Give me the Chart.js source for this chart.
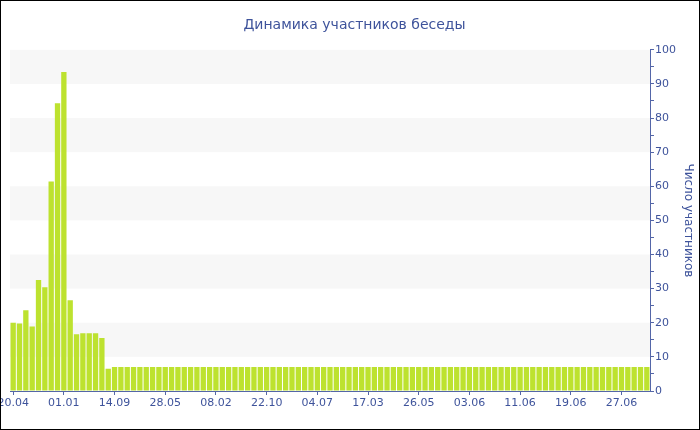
<!DOCTYPE html>
<html>
<head>
<meta charset="utf-8">
<script src="https://cdn.jsdelivr.net/npm/chart.js@4/dist/chart.umd.min.js"></script>
<style>
  html, body { margin: 0; padding: 0; background: #fff; }
  #frame { width: 700px; height: 430px; box-sizing: border-box; border: 1px solid #000; background: #fff; overflow: hidden; }
  canvas { display: block; }
</style>
</head>
<body>
<div id="frame"><canvas id="chart" width="698" height="428"></canvas></div>
<script>
// Tick labels shown under every 8th bar
const tickLabels = ['20.04', '01.01', '14.09', '28.05', '08.02', '22.10', '04.07',
                    '17.03', '26.05', '03.06', '11.06', '19.06', '27.06'];
const labelEvery = 8;

// Number of chat participants per period
const participants = [
  20, 19.8, 23.7, 18.9, 32.5, 30.4, 61.4, 84.3, 93.5, 26.6,
  16.6, 16.9, 16.9, 16.9, 15.5, 6.5, 7, 7, 7, 7,
  7, 7, 7, 7, 7, 7, 7, 7, 7, 7,
  7, 7, 7, 7, 7, 7, 7, 7, 7, 7,
  7, 7, 7, 7, 7, 7, 7, 7, 7, 7,
  7, 7, 7, 7, 7, 7, 7, 7, 7, 7,
  7, 7, 7, 7, 7, 7, 7, 7, 7, 7,
  7, 7, 7, 7, 7, 7, 7, 7, 7, 7,
  7, 7, 7, 7, 7, 7, 7, 7, 7, 7,
  7, 7, 7, 7, 7, 7, 7, 7, 7, 7,
  7
];

// Alternating shaded bands of the value axis
const bandRanges = [[10, 20], [30, 40], [50, 60], [70, 80], [90, 100]];

const categories = participants.map((_, i) =>
  i % labelEvery === 0 && tickLabels[i / labelEvery] !== undefined ? tickLabels[i / labelEvery] : '');

const textColor = '#3e539b';
const axisColor = '#5466a8';
const fontFamily = '"DejaVu Sans", Verdana, sans-serif';
const font = { family: fontFamily, size: 11 };

const bands = {
  id: 'bands',
  beforeDatasetsDraw(chart) {
    const { ctx, chartArea, scales } = chart;
    ctx.save();
    ctx.fillStyle = '#f7f7f7';
    bandRanges.forEach(([lo, hi]) => {
      const yTop = scales.y.getPixelForValue(hi);
      const yBot = scales.y.getPixelForValue(lo);
      ctx.fillRect(chartArea.left, yTop, chartArea.right - chartArea.left, yBot - yTop);
    });
    ctx.restore();
  }
};

new Chart(document.getElementById('chart'), {
  type: 'bar',
  data: {
    labels: categories,
    datasets: [{
      label: 'Число участников',
      data: participants,
      backgroundColor: '#bde22f',
      borderWidth: 0,
      barPercentage: 0.84,
      categoryPercentage: 1.0
    }]
  },
  options: {
    responsive: false,
    animation: false,
    layout: { padding: { left: 9, right: 0, top: 0, bottom: 0 } },
    plugins: {
      legend: { display: false },
      tooltip: { enabled: false },
      title: {
        display: true,
        text: 'Динамика участников беседы',
        color: textColor,
        font: { family: fontFamily, size: 14, weight: 'normal' },
        padding: { top: 16, bottom: 16 }
      }
    },
    scales: {
      x: {
        offset: true,
        grid: {
          offset: false,
          drawOnChartArea: false,
          tickLength: 4,
          tickColor: (c) => (c.tick && c.tick.label ? axisColor : 'rgba(0,0,0,0)')
        },
        border: { color: axisColor, width: 1 },
        ticks: {
          autoSkip: false,
          maxRotation: 0,
          padding: 2,
          color: textColor,
          font: font,
          callback: function (value, index) { return categories[index]; }
        },
        afterFit: (scale) => {
          scale.height = 38;
          scale.paddingLeft = 0;
          scale.paddingRight = 0;
        }
      },
      y: {
        position: 'right',
        min: 0,
        max: 100,
        grid: { drawOnChartArea: false, tickLength: 4, color: axisColor },
        border: { color: axisColor, width: 1 },
        ticks: {
          stepSize: 5,
          padding: 1,
          color: textColor,
          font: font,
          callback: (v) => (v % 10 === 0 ? String(v) : '')
        },
        title: {
          display: true,
          text: 'Число участников',
          color: textColor,
          font: { family: fontFamily, size: 12 },
          padding: { top: 4, bottom: 0 }
        },
        afterFit: (scale) => { scale.width = 49; }
      }
    }
  },
  plugins: [bands]
});
</script>
</body>
</html>
